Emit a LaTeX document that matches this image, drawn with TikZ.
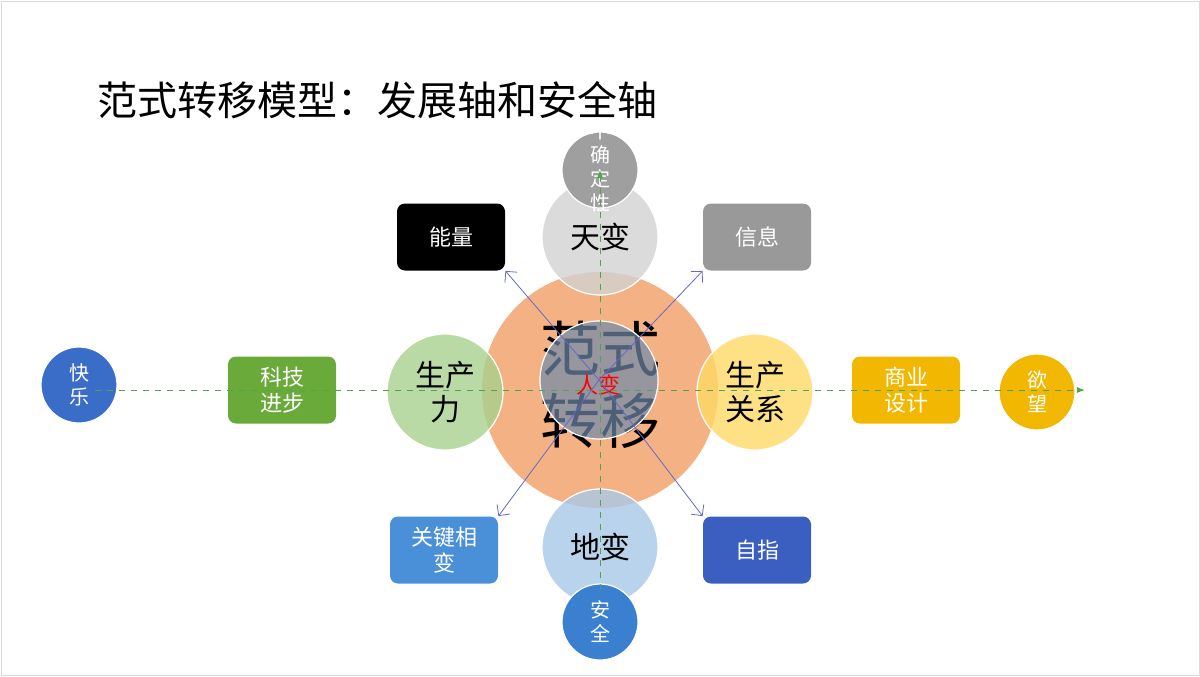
\documentclass[tikz,border=0pt]{standalone}
\usepackage{fontspec}
\setmainfont{Noto Sans CJK SC}
\usetikzlibrary{arrows.meta}
\tikzset{
  bigring/.style={circle, minimum size=58pt, inner sep=0pt, draw=white, line width=0.6pt, fill opacity=0.8, text opacity=1, font=\fontsize{15}{17}\selectfont, align=center},
  smallball/.style={circle, minimum size=38pt, inner sep=0pt, draw=white, line width=0.6pt, text=white, font=\fontsize{10}{12}\selectfont, align=center},
  tagbox/.style={rounded corners=4pt, minimum width=54pt, minimum height=33.5pt, inner sep=0pt, text=white, font=\fontsize{11}{13}\selectfont, align=center},
  axisline/.style={dashed, draw=green!50!black!70, line width=0.5pt, -{Latex[length=4pt]}},
  spoke/.style={draw=blue!50!gray!80, line width=0.4pt, -{Straight Barb[length=4pt]}}
}
\begin{document}
\begin{tikzpicture}[x=0.5pt, y=-0.5pt]
        \useasboundingbox (0,0) rectangle (1200,676);
        \draw[gray!30] (1,1) rectangle (1199,675);

        % Title
        \node[anchor=west, font=\fontsize{20}{24}\selectfont] (title) at (90,100) {范式转移模型：发展轴和安全轴};

        % Main ring
        \node[circle, minimum size=118pt, inner sep=0pt, fill={rgb,255:red,244;green,177;blue,131}] (shift) at (600,390) {};
        \node[bigring, fill=gray!35] (tian) at (600,237) {天变};
        \node[bigring, fill={rgb,255:red,169;green,200;blue,232}] (di) at (600,547) {地变};
        \node[bigring, fill={rgb,255:red,169;green,209;blue,142}] (force) at (445,392) {生产\\力};
        \node[bigring, fill={rgb,255:red,255;green,217;blue,102}] (relation) at (755,392) {生产\\关系};
        \node[font=\fontsize{30}{36}\selectfont, align=center] (shifttext) at (600,385) {范式\\转移};
        \node[circle, minimum size=59pt, inner sep=0pt, draw=white, line width=0.6pt, fill={rgb,255:red,112;green,138;blue,170}, fill opacity=0.7] (ren) at (599,380) {};
        \node[text=red, font=\fontsize{11}{13}\selectfont] (rentext) at (598,385) {人变};

        % Outer balls
        \node[smallball, fill=gray!75] (uncertain) at (600,170) {};
        \node[text=white, font=\fontsize{10}{12}\selectfont, align=center] (uncertaintext) at (600,168) {不\\确\\定\\性};
        \node[smallball, fill={rgb,255:red,58;green,127;blue,208}] (safety) at (600,622) {安\\全};
        \node[smallball, fill={rgb,255:red,58;green,109;blue,200}] (joy) at (79,385) {快\\乐};
        \node[smallball, fill={rgb,255:red,242;green,183;blue,0}] (desire) at (1037,392) {欲\\望};

        % Boxes
        \node[tagbox, fill=black] (energy) at (451,237) {能量};
        \node[tagbox, fill=gray!80] (info) at (757,237) {信息};
        \node[tagbox, fill={rgb,255:red,106;green,170;blue,58}] (tech) at (282,390) {科技\\进步};
        \node[tagbox, fill={rgb,255:red,242;green,183;blue,0}] (business) at (906,390) {商业\\设计};
        \node[tagbox, fill={rgb,255:red,74;green,144;blue,217}] (phase) at (444,550) {关键相\\变};
        \node[tagbox, fill={rgb,255:red,58;green,95;blue,192}] (selfref) at (757,550) {自指};

        % Axes
        \coordinate (hstart) at (95,390);
        \coordinate (hend) at (1085,390);
        \coordinate (vstart) at (600,590);
        \coordinate (vend) at (600,170);
        \draw[axisline] (hstart) -- (hend);
        \draw[axisline] (vstart) -- (vend);

        % Spokes
        \draw[spoke] (ren.center) -- (energy.south east);
        \draw[spoke] (ren.center) -- (info.south west);
        \draw[spoke] (ren.center) -- (phase.north east);
        \draw[spoke] (ren.center) -- (selfref.north west);

    \end{tikzpicture}
\end{document}
